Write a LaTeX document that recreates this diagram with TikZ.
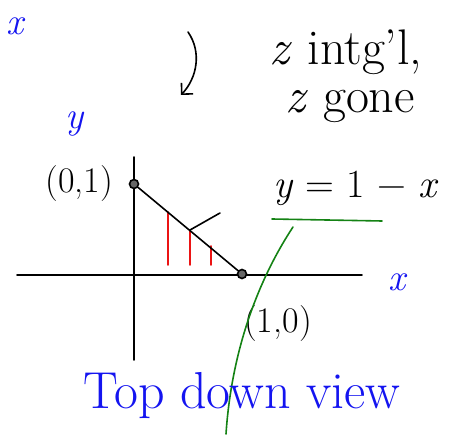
\documentclass[tikz,border=0pt]{standalone}
\usepackage{tikz}
\usetikzlibrary{arrows.meta,positioning,calc}
\definecolor{penBlue}{RGB}{20,20,240}
\definecolor{penRed}{RGB}{235,20,20}
\definecolor{penGreen}{RGB}{20,130,20}

\begin{document}
\begin{tikzpicture}[x=1pt, y=1pt, line width=1.6pt, line cap=round,
    every node/.style={font=\fontsize{36}{40}\selectfont, inner sep=1pt},
    bluelbl/.style={text=penBlue, font=\fontsize{38}{42}\selectfont\itshape},
    notetxt/.style={font=\fontsize{50}{54}\selectfont},
    dotpt/.style={circle, draw, fill=black!60, inner sep=0pt, minimum size=9pt, line width=1.6pt},
    hatch/.style={color=penRed, line width=1.6pt},
    greenpen/.style={draw=penGreen, line width=1.6pt}]
  \useasboundingbox (0,0) rectangle (466,434);
  % Corner label
  \node[bluelbl] (xcorner) at (15,408) {x};
  % Note about the integral
  \coordinate (arrtop) at (188,402);
  \coordinate (arrend) at (181,339);
  \draw[-{Straight Barb[length=8pt,width=16pt]}] (arrtop) .. controls (202,382) and (197,356) .. (arrend);
  \node[notetxt] (intnote) at (346,382) {\textit{z} intg'l,};
  \node[notetxt] (gonenote) at (350,328) {\textit{z} gone};
  % Axes
  \coordinate (yaxbot) at (134,74);
  \coordinate (yaxtop) at (134,277);
  \coordinate (xaxleft) at (17,159);
  \coordinate (xaxright) at (362,159);
  \draw (yaxbot) -- (yaxtop);
  \draw (xaxleft) -- (xaxright);
  \node[bluelbl] (ylbl) at (75,310) {y};
  \node[bluelbl] (xlbl) at (397,152) {x};
  % Red strips under the line
  \coordinate (stripbase) at (0,169);
  \coordinate (topa) at (168,222);
  \coordinate (topb) at (190,204);
  \coordinate (topc) at (211,188);
  \draw[hatch] (topa) -- (topa |- stripbase);
  \draw[hatch] (topb) -- (topb |- stripbase);
  \draw[hatch] (topc) -- (topc |- stripbase);
  % End points and the line y = 1 - x
  \node[dotpt] (p01) at (134,250) {};
  \node[dotpt] (p10) at (242,160) {};
  \node[left=14pt of p01] (p01lbl) {(0,1)};
  \node (p10lbl) at ($(p10)+(36,-50)$) {(1,0)};
  \draw (p01) -- (p10);
  % Tick pointing at the line
  \coordinate (tickend) at (220,221);
  \draw (topb) -- (tickend);
  % Equation with green pointer
  \node[font=\fontsize{40}{44}\selectfont] (eqn) at (356,246) {\textit{y} = 1 − \textit{x}};
  \coordinate (ulstart) at (272,215);
  \coordinate (ulend) at (382,213);
  \draw[greenpen] (ulstart) -- (ulend);
  \coordinate (gtop) at (293,207);
  \coordinate (gbot) at (226,0);
  \draw[greenpen] (gtop) .. controls (262,160) and (232,90) .. (gbot);
  % Caption
  \node[text=penBlue, font=\fontsize{52}{56}\selectfont] (caption) at (242,38) {Top down view};
\end{tikzpicture}
\end{document}
